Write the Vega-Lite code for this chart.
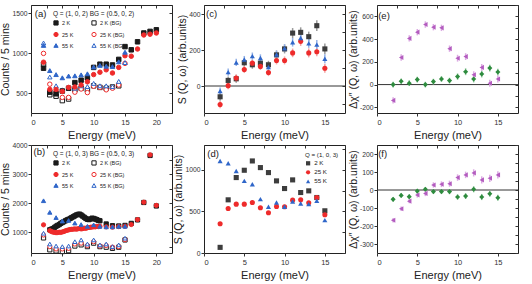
{
"$schema": "https://vega.github.io/schema/vega-lite/v6.json",
"padding": {"left": 0, "top": 4, "right": 0, "bottom": 0},
"columns": 3,
"spacing": 32,
"bounds": "flush",
"resolve": {"scale": {"color": "independent", "fill": "independent", "stroke": "independent", "shape": "independent"}, "legend": {"color": "independent", "fill": "independent", "stroke": "independent", "shape": "independent"}},
"config": {
  "font": "Liberation Sans",
  "locale": {"number": {"decimal": ".", "thousands": ",", "grouping": [3], "currency": ["$", ""], "minus": "-"}},
  "view": {"stroke": "#222", "strokeWidth": 1},
  "axis": {"grid": false, "domain": false, "minExtent": 0, "labelFontSize": 6.8, "titleFontSize": 10.5, "titleFontWeight": "normal", "labelColor": "#333", "titleColor": "#222", "tickColor": "#333", "tickSize": 3, "labelPadding": 1, "titlePadding": 1},
  "axisBottom": {"labelFontSize": 7.5, "titleFontSize": 11, "labelPadding": 2, "titlePadding": 4},
  "legend": {"titleFontSize": 6.5, "labelFontSize": 5.5, "titleFontWeight": "normal", "symbolSize": 18, "rowPadding": 2, "titlePadding": 2, "labelOffset": 3, "padding": 0, "symbolStrokeWidth": 1, "titleColor": "#222", "labelColor": "#222"}
},
"datasets": {
  "a": [
    {"E":2,"v":860,"s":"2 K (BG)"},{"E":3,"v":478,"s":"2 K (BG)"},{"E":4,"v":460,"s":"2 K (BG)"},{"E":5,"v":405,"s":"2 K (BG)"},{"E":6,"v":425,"s":"2 K (BG)"},{"E":7,"v":540,"s":"2 K (BG)"},{"E":8,"v":560,"s":"2 K (BG)"},{"E":9,"v":540,"s":"2 K (BG)"},{"E":10,"v":590,"s":"2 K (BG)"},{"E":11,"v":570,"s":"2 K (BG)"},{"E":12,"v":560,"s":"2 K (BG)"},{"E":13,"v":575,"s":"2 K (BG)"},{"E":14,"v":590,"s":"2 K (BG)"},
    {"E":2,"v":995,"s":"25 K (BG)"},{"E":3,"v":610,"s":"25 K (BG)"},{"E":4,"v":520,"s":"25 K (BG)"},{"E":5,"v":445,"s":"25 K (BG)"},{"E":6,"v":445,"s":"25 K (BG)"},{"E":7,"v":510,"s":"25 K (BG)"},{"E":8,"v":550,"s":"25 K (BG)"},{"E":9,"v":505,"s":"25 K (BG)"},{"E":10,"v":585,"s":"25 K (BG)"},{"E":11,"v":570,"s":"25 K (BG)"},{"E":12,"v":540,"s":"25 K (BG)"},{"E":13,"v":560,"s":"25 K (BG)"},{"E":14,"v":600,"s":"25 K (BG)"},{"E":15,"v":870,"s":"25 K (BG)"},
    {"E":2,"v":1125,"s":"55 K (BG)"},{"E":3,"v":700,"s":"55 K (BG)"},{"E":4,"v":590,"s":"55 K (BG)"},{"E":5,"v":540,"s":"55 K (BG)"},{"E":6,"v":555,"s":"55 K (BG)"},{"E":7,"v":560,"s":"55 K (BG)"},{"E":8,"v":590,"s":"55 K (BG)"},{"E":9,"v":580,"s":"55 K (BG)"},{"E":10,"v":620,"s":"55 K (BG)"},{"E":11,"v":590,"s":"55 K (BG)"},{"E":12,"v":590,"s":"55 K (BG)"},{"E":13,"v":580,"s":"55 K (BG)"},{"E":14,"v":645,"s":"55 K (BG)"},{"E":15,"v":880,"s":"55 K (BG)"},
    {"E":2,"v":810,"s":"2 K"},{"E":3,"v":510,"s":"2 K"},{"E":4,"v":490,"s":"2 K"},{"E":5,"v":525,"s":"2 K"},{"E":6,"v":560,"s":"2 K"},{"E":7,"v":630,"s":"2 K"},{"E":8,"v":660,"s":"2 K"},{"E":9,"v":690,"s":"2 K"},{"E":10,"v":820,"s":"2 K"},{"E":11,"v":860,"s":"2 K"},{"E":12,"v":860,"s":"2 K"},{"E":13,"v":850,"s":"2 K"},{"E":14,"v":920,"s":"2 K"},{"E":15,"v":1080,"s":"2 K"},{"E":16,"v":1040,"s":"2 K"},{"E":17,"v":1140,"s":"2 K"},{"E":18,"v":1250,"s":"2 K"},{"E":19,"v":1270,"s":"2 K"},{"E":20,"v":1290,"s":"2 K"},
    {"E":2,"v":885,"s":"25 K"},{"E":3,"v":545,"s":"25 K"},{"E":4,"v":545,"s":"25 K"},{"E":5,"v":520,"s":"25 K"},{"E":6,"v":570,"s":"25 K"},{"E":7,"v":575,"s":"25 K"},{"E":8,"v":600,"s":"25 K"},{"E":9,"v":640,"s":"25 K"},{"E":10,"v":730,"s":"25 K"},{"E":11,"v":760,"s":"25 K"},{"E":12,"v":790,"s":"25 K"},{"E":13,"v":750,"s":"25 K"},{"E":14,"v":820,"s":"25 K"},{"E":15,"v":966,"s":"25 K"},{"E":16,"v":960,"s":"25 K"},{"E":17,"v":1050,"s":"25 K"},{"E":18,"v":1225,"s":"25 K"},{"E":19,"v":1235,"s":"25 K"},{"E":20,"v":1250,"s":"25 K"},
    {"E":2,"v":1095,"s":"55 K"},{"E":3,"v":780,"s":"55 K"},{"E":4,"v":730,"s":"55 K"},{"E":5,"v":690,"s":"55 K"},{"E":6,"v":712,"s":"55 K"},{"E":7,"v":715,"s":"55 K"},{"E":8,"v":727,"s":"55 K"},{"E":9,"v":740,"s":"55 K"},{"E":10,"v":825,"s":"55 K"},{"E":11,"v":845,"s":"55 K"},{"E":12,"v":835,"s":"55 K"},{"E":13,"v":830,"s":"55 K"},{"E":14,"v":890,"s":"55 K"},{"E":15,"v":1010,"s":"55 K"}
  ],
  "b": [
    {"E":2,"v":800,"s":"2 K (BG)"},{"E":3,"v":390,"s":"2 K (BG)"},{"E":4,"v":350,"s":"2 K (BG)"},{"E":5,"v":330,"s":"2 K (BG)"},{"E":6,"v":360,"s":"2 K (BG)"},{"E":7,"v":520,"s":"2 K (BG)"},{"E":8,"v":560,"s":"2 K (BG)"},{"E":9,"v":500,"s":"2 K (BG)"},{"E":10,"v":620,"s":"2 K (BG)"},{"E":11,"v":500,"s":"2 K (BG)"},{"E":12,"v":480,"s":"2 K (BG)"},{"E":13,"v":440,"s":"2 K (BG)"},{"E":14,"v":480,"s":"2 K (BG)"},{"E":15,"v":730,"s":"2 K (BG)"},
    {"E":2,"v":900,"s":"25 K (BG)"},{"E":3,"v":500,"s":"25 K (BG)"},{"E":4,"v":420,"s":"25 K (BG)"},{"E":5,"v":420,"s":"25 K (BG)"},{"E":6,"v":440,"s":"25 K (BG)"},{"E":7,"v":590,"s":"25 K (BG)"},{"E":8,"v":620,"s":"25 K (BG)"},{"E":9,"v":540,"s":"25 K (BG)"},{"E":10,"v":670,"s":"25 K (BG)"},{"E":11,"v":520,"s":"25 K (BG)"},{"E":12,"v":540,"s":"25 K (BG)"},{"E":13,"v":480,"s":"25 K (BG)"},{"E":14,"v":500,"s":"25 K (BG)"},{"E":15,"v":740,"s":"25 K (BG)"},
    {"E":2,"v":960,"s":"55 K (BG)"},{"E":3,"v":590,"s":"55 K (BG)"},{"E":4,"v":520,"s":"55 K (BG)"},{"E":5,"v":500,"s":"55 K (BG)"},{"E":6,"v":520,"s":"55 K (BG)"},{"E":7,"v":670,"s":"55 K (BG)"},{"E":8,"v":730,"s":"55 K (BG)"},{"E":9,"v":590,"s":"55 K (BG)"},{"E":10,"v":730,"s":"55 K (BG)"},{"E":11,"v":560,"s":"55 K (BG)"},{"E":12,"v":590,"s":"55 K (BG)"},{"E":13,"v":500,"s":"55 K (BG)"},{"E":14,"v":560,"s":"55 K (BG)"},{"E":15,"v":790,"s":"55 K (BG)"},
    {"E":3,"v":1080,"s":"2 K"},{"E":3.25,"v":1100,"s":"2 K"},{"E":3.5,"v":1120,"s":"2 K"},{"E":3.75,"v":1160,"s":"2 K"},{"E":4,"v":1200,"s":"2 K"},{"E":4.25,"v":1230,"s":"2 K"},{"E":4.5,"v":1260,"s":"2 K"},{"E":4.75,"v":1300,"s":"2 K"},{"E":5,"v":1330,"s":"2 K"},{"E":5.25,"v":1360,"s":"2 K"},{"E":5.5,"v":1390,"s":"2 K"},{"E":5.75,"v":1420,"s":"2 K"},{"E":6,"v":1440,"s":"2 K"},{"E":6.25,"v":1470,"s":"2 K"},{"E":6.5,"v":1500,"s":"2 K"},{"E":6.75,"v":1530,"s":"2 K"},{"E":7,"v":1560,"s":"2 K"},{"E":7.25,"v":1590,"s":"2 K"},{"E":7.5,"v":1610,"s":"2 K"},{"E":7.75,"v":1620,"s":"2 K"},{"E":8,"v":1590,"s":"2 K"},{"E":8.25,"v":1550,"s":"2 K"},{"E":8.5,"v":1510,"s":"2 K"},{"E":8.75,"v":1470,"s":"2 K"},{"E":9,"v":1440,"s":"2 K"},{"E":9.25,"v":1430,"s":"2 K"},{"E":9.5,"v":1450,"s":"2 K"},{"E":9.75,"v":1480,"s":"2 K"},{"E":10,"v":1470,"s":"2 K"},{"E":10.25,"v":1450,"s":"2 K"},{"E":10.5,"v":1430,"s":"2 K"},{"E":10.75,"v":1400,"s":"2 K"},{"E":11,"v":1390,"s":"2 K"},{"E":12,"v":1280,"s":"2 K"},{"E":13,"v":1220,"s":"2 K"},{"E":14,"v":1210,"s":"2 K"},{"E":15,"v":1230,"s":"2 K"},{"E":16,"v":1300,"s":"2 K"},{"E":17,"v":1420,"s":"2 K"},{"E":18,"v":2020,"s":"2 K"},{"E":19,"v":3640,"s":"2 K"},{"E":20,"v":1900,"s":"2 K"},
    {"E":2,"v":1250,"s":"25 K"},{"E":3,"v":1050,"s":"25 K"},{"E":3.25,"v":1020,"s":"25 K"},{"E":3.5,"v":1000,"s":"25 K"},{"E":3.75,"v":990,"s":"25 K"},{"E":4,"v":980,"s":"25 K"},{"E":4.25,"v":985,"s":"25 K"},{"E":4.5,"v":995,"s":"25 K"},{"E":4.75,"v":990,"s":"25 K"},{"E":5,"v":1005,"s":"25 K"},{"E":5.25,"v":1020,"s":"25 K"},{"E":5.5,"v":1045,"s":"25 K"},{"E":5.75,"v":1060,"s":"25 K"},{"E":6,"v":1075,"s":"25 K"},{"E":6.25,"v":1090,"s":"25 K"},{"E":6.5,"v":1095,"s":"25 K"},{"E":6.75,"v":1100,"s":"25 K"},{"E":7,"v":1110,"s":"25 K"},{"E":7.25,"v":1100,"s":"25 K"},{"E":7.5,"v":1115,"s":"25 K"},{"E":7.75,"v":1125,"s":"25 K"},{"E":8,"v":1110,"s":"25 K"},{"E":8.25,"v":1120,"s":"25 K"},{"E":8.5,"v":1135,"s":"25 K"},{"E":8.75,"v":1130,"s":"25 K"},{"E":9,"v":1150,"s":"25 K"},{"E":9.25,"v":1160,"s":"25 K"},{"E":9.5,"v":1165,"s":"25 K"},{"E":9.75,"v":1175,"s":"25 K"},{"E":10,"v":1185,"s":"25 K"},{"E":10.25,"v":1180,"s":"25 K"},{"E":10.5,"v":1195,"s":"25 K"},{"E":10.75,"v":1190,"s":"25 K"},{"E":11,"v":1200,"s":"25 K"},{"E":12,"v":1180,"s":"25 K"},{"E":13,"v":1170,"s":"25 K"},{"E":14,"v":1190,"s":"25 K"},{"E":15,"v":1200,"s":"25 K"},{"E":16,"v":1260,"s":"25 K"},{"E":17,"v":1430,"s":"25 K"},{"E":18,"v":2030,"s":"25 K"},{"E":19,"v":3660,"s":"25 K"},{"E":20,"v":1920,"s":"25 K"},
    {"E":2,"v":2080,"s":"55 K"},{"E":3,"v":1680,"s":"55 K"},{"E":4,"v":1500,"s":"55 K"},{"E":5,"v":1380,"s":"55 K"},{"E":6,"v":1400,"s":"55 K"},{"E":7,"v":1310,"s":"55 K"},{"E":8,"v":1260,"s":"55 K"},{"E":9,"v":1200,"s":"55 K"},{"E":10,"v":1250,"s":"55 K"},{"E":11,"v":1200,"s":"55 K"},{"E":12,"v":1180,"s":"55 K"},{"E":13,"v":1180,"s":"55 K"},{"E":14,"v":1200,"s":"55 K"},{"E":15,"v":1200,"s":"55 K"}
  ],
  "c": [
    {"E":2,"v":-60,"err":22,"s":"2 K"},{"E":3,"v":31,"err":22,"s":"2 K"},{"E":4,"v":40,"err":22,"s":"2 K"},{"E":5,"v":129,"err":22,"s":"2 K"},{"E":6,"v":118,"err":22,"s":"2 K"},{"E":7,"v":127,"err":22,"s":"2 K"},{"E":8,"v":118,"err":22,"s":"2 K"},{"E":9,"v":173,"err":24,"s":"2 K"},{"E":10,"v":206,"err":25,"s":"2 K"},{"E":11,"v":294,"err":28,"s":"2 K"},{"E":12,"v":298,"err":28,"s":"2 K"},{"E":13,"v":274,"err":28,"s":"2 K"},{"E":14,"v":335,"err":30,"s":"2 K"},{"E":15,"v":206,"err":30,"s":"2 K"},
    {"E":2,"v":-103,"err":20,"s":"25 K"},{"E":3,"v":2,"err":20,"s":"25 K"},{"E":4,"v":44,"err":20,"s":"25 K"},{"E":5,"v":92,"err":20,"s":"25 K"},{"E":6,"v":127,"err":20,"s":"25 K"},{"E":7,"v":109,"err":20,"s":"25 K"},{"E":8,"v":75,"err":20,"s":"25 K"},{"E":9,"v":142,"err":22,"s":"25 K"},{"E":10,"v":142,"err":22,"s":"25 K"},{"E":11,"v":184,"err":24,"s":"25 K"},{"E":12,"v":248,"err":25,"s":"25 K"},{"E":13,"v":184,"err":25,"s":"25 K"},{"E":14,"v":190,"err":25,"s":"25 K"},{"E":15,"v":99,"err":25,"s":"25 K"},
    {"E":2,"v":-28,"err":20,"s":"55 K"},{"E":3,"v":77,"err":20,"s":"55 K"},{"E":4,"v":131,"err":20,"s":"55 K"},{"E":5,"v":147,"err":20,"s":"55 K"},{"E":6,"v":166,"err":20,"s":"55 K"},{"E":7,"v":156,"err":20,"s":"55 K"},{"E":8,"v":105,"err":20,"s":"55 K"},{"E":9,"v":175,"err":22,"s":"55 K"},{"E":10,"v":210,"err":22,"s":"55 K"},{"E":11,"v":243,"err":24,"s":"55 K"},{"E":12,"v":267,"err":25,"s":"55 K"},{"E":13,"v":237,"err":25,"s":"55 K"},{"E":14,"v":230,"err":25,"s":"55 K"},{"E":15,"v":151,"err":25,"s":"55 K"}
  ],
  "d": [
    {"E":2,"v":68,"s":"2 K"},{"E":3,"v":640,"s":"2 K"},{"E":4,"v":908,"s":"2 K"},{"E":5,"v":996,"s":"2 K"},{"E":6,"v":1108,"s":"2 K"},{"E":7,"v":1028,"s":"2 K"},{"E":8,"v":968,"s":"2 K"},{"E":9,"v":868,"s":"2 K"},{"E":10,"v":776,"s":"2 K"},{"E":11,"v":880,"s":"2 K"},{"E":12,"v":728,"s":"2 K"},{"E":13,"v":748,"s":"2 K"},{"E":14,"v":668,"s":"2 K"},{"E":15,"v":508,"s":"2 K"},
    {"E":2,"v":352,"s":"25 K"},{"E":3,"v":536,"s":"25 K"},{"E":4,"v":588,"s":"25 K"},{"E":5,"v":588,"s":"25 K"},{"E":6,"v":608,"s":"25 K"},{"E":7,"v":544,"s":"25 K"},{"E":8,"v":484,"s":"25 K"},{"E":9,"v":560,"s":"25 K"},{"E":10,"v":556,"s":"25 K"},{"E":11,"v":636,"s":"25 K"},{"E":12,"v":640,"s":"25 K"},{"E":13,"v":604,"s":"25 K"},{"E":14,"v":668,"s":"25 K"},{"E":15,"v":460,"s":"25 K"},
    {"E":2,"v":1108,"s":"55 K"},{"E":3,"v":1080,"s":"55 K"},{"E":4,"v":988,"s":"55 K"},{"E":5,"v":868,"s":"55 K"},{"E":6,"v":828,"s":"55 K"},{"E":7,"v":648,"s":"55 K"},{"E":8,"v":556,"s":"55 K"},{"E":9,"v":608,"s":"55 K"},{"E":10,"v":556,"s":"55 K"},{"E":11,"v":620,"s":"55 K"},{"E":12,"v":596,"s":"55 K"},{"E":13,"v":588,"s":"55 K"},{"E":14,"v":628,"s":"55 K"},{"E":15,"v":396,"s":"55 K"}
  ],
  "e": [
    {"E":2,"v":0,"err":25,"s":"Q = (1, 0, 2)"},{"E":3,"v":29,"err":25,"s":"Q = (1, 0, 2)"},{"E":4,"v":12,"err":25,"s":"Q = (1, 0, 2)"},{"E":5,"v":44,"err":25,"s":"Q = (1, 0, 2)"},{"E":6,"v":0,"err":25,"s":"Q = (1, 0, 2)"},{"E":7,"v":26,"err":25,"s":"Q = (1, 0, 2)"},{"E":8,"v":49,"err":25,"s":"Q = (1, 0, 2)"},{"E":9,"v":35,"err":25,"s":"Q = (1, 0, 2)"},{"E":10,"v":70,"err":28,"s":"Q = (1, 0, 2)"},{"E":11,"v":113,"err":30,"s":"Q = (1, 0, 2)"},{"E":12,"v":49,"err":30,"s":"Q = (1, 0, 2)"},{"E":13,"v":93,"err":30,"s":"Q = (1, 0, 2)"},{"E":14,"v":145,"err":30,"s":"Q = (1, 0, 2)"},{"E":15,"v":110,"err":30,"s":"Q = (1, 0, 2)"},
    {"E":2,"v":-139,"err":28,"s":"Q = (1, 0, 3)"},{"E":3,"v":238,"err":28,"s":"Q = (1, 0, 3)"},{"E":4,"v":406,"err":28,"s":"Q = (1, 0, 3)"},{"E":5,"v":461,"err":28,"s":"Q = (1, 0, 3)"},{"E":6,"v":528,"err":28,"s":"Q = (1, 0, 3)"},{"E":7,"v":505,"err":28,"s":"Q = (1, 0, 3)"},{"E":8,"v":499,"err":28,"s":"Q = (1, 0, 3)"},{"E":9,"v":316,"err":28,"s":"Q = (1, 0, 3)"},{"E":10,"v":232,"err":30,"s":"Q = (1, 0, 3)"},{"E":11,"v":246,"err":30,"s":"Q = (1, 0, 3)"},{"E":12,"v":87,"err":30,"s":"Q = (1, 0, 3)"},{"E":13,"v":151,"err":30,"s":"Q = (1, 0, 3)"},{"E":14,"v":12,"err":30,"s":"Q = (1, 0, 3)"},{"E":15,"v":49,"err":30,"s":"Q = (1, 0, 3)"}
  ],
  "f": [
    {"E":2,"v":-52,"err":12,"s":"Q = (1, 0, 2)"},{"E":3,"v":-30,"err":12,"s":"Q = (1, 0, 2)"},{"E":4,"v":-37,"err":12,"s":"Q = (1, 0, 2)"},{"E":5,"v":-6,"err":12,"s":"Q = (1, 0, 2)"},{"E":6,"v":4,"err":12,"s":"Q = (1, 0, 2)"},{"E":7,"v":-9,"err":12,"s":"Q = (1, 0, 2)"},{"E":8,"v":-9,"err":12,"s":"Q = (1, 0, 2)"},{"E":9,"v":-9,"err":14,"s":"Q = (1, 0, 2)"},{"E":10,"v":-39,"err":15,"s":"Q = (1, 0, 2)"},{"E":11,"v":-34,"err":16,"s":"Q = (1, 0, 2)"},{"E":12,"v":4,"err":17,"s":"Q = (1, 0, 2)"},{"E":13,"v":-39,"err":17,"s":"Q = (1, 0, 2)"},{"E":14,"v":-21,"err":17,"s":"Q = (1, 0, 2)"},{"E":15,"v":-43,"err":17,"s":"Q = (1, 0, 2)"},
    {"E":2,"v":-168,"err":12,"s":"Q = (1, 0, 3)"},{"E":3,"v":-104,"err":12,"s":"Q = (1, 0, 3)"},{"E":4,"v":-62,"err":12,"s":"Q = (1, 0, 3)"},{"E":5,"v":-28,"err":14,"s":"Q = (1, 0, 3)"},{"E":6,"v":-19,"err":15,"s":"Q = (1, 0, 3)"},{"E":7,"v":28,"err":15,"s":"Q = (1, 0, 3)"},{"E":8,"v":32,"err":16,"s":"Q = (1, 0, 3)"},{"E":9,"v":35,"err":17,"s":"Q = (1, 0, 3)"},{"E":10,"v":69,"err":18,"s":"Q = (1, 0, 3)"},{"E":11,"v":84,"err":18,"s":"Q = (1, 0, 3)"},{"E":12,"v":95,"err":20,"s":"Q = (1, 0, 3)"},{"E":13,"v":56,"err":20,"s":"Q = (1, 0, 3)"},{"E":14,"v":65,"err":20,"s":"Q = (1, 0, 3)"},{"E":15,"v":84,"err":20,"s":"Q = (1, 0, 3)"}
  ]
},
"concat": [
  {
    "width": 141, "height": 108,
    "layer": [
      {"data": {"name": "a"},
       "mark": {"type": "point", "size": 20, "strokeWidth": 1, "opacity": 1},
       "encoding": {
         "x": {"field": "E", "type": "quantitative", "scale": {"domain": [0, 22.5]}, "axis": {"values": [0,5,10,15,20], "title": "Energy (meV)"}},
         "y": {"field": "v", "type": "quantitative", "scale": {"domain": [250, 1600]}, "axis": {"values": [500,1000,1500], "format": "d", "title": "Counts / 5 mins"}},
         "fill": {"field": "s", "type": "nominal", "scale": {"domain": ["2 K","25 K","55 K","2 K (BG)","25 K (BG)","55 K (BG)"], "range": ["#1a1a1a","#ee2b2b","#2f66c9","white","white","white"]}, "legend": {"title": "Q = (1, 0, 2) BG = (0.5, 0, 2)", "orient": "none", "legendX": 22, "legendY": 6, "columns": 2, "columnPadding": 15}},
         "stroke": {"field": "s", "type": "nominal", "scale": {"domain": ["2 K","25 K","55 K","2 K (BG)","25 K (BG)","55 K (BG)"], "range": ["#1a1a1a","#ee2b2b","#2f66c9","#1a1a1a","#ee2b2b","#2f66c9"]}, "legend": {"title": "Q = (1, 0, 2) BG = (0.5, 0, 2)", "orient": "none", "legendX": 22, "legendY": 6, "columns": 2, "columnPadding": 15}},
         "shape": {"field": "s", "type": "nominal", "scale": {"domain": ["2 K","25 K","55 K","2 K (BG)","25 K (BG)","55 K (BG)"], "range": ["square","circle","triangle-up","square","circle","triangle-up"]}, "legend": {"title": "Q = (1, 0, 2) BG = (0.5, 0, 2)", "orient": "none", "legendX": 22, "legendY": 6, "columns": 2, "columnPadding": 15}}
       }},
      {"data": {"values": [{"label": "(a)"}]},
       "mark": {"type": "text", "align": "left", "baseline": "middle", "fontSize": 9.5, "color": "#222"},
       "encoding": {"x": {"datum": 0.6, "type": "quantitative", "scale": {"domain": [0, 22.5]}, "axis": null}, "y": {"datum": 1490, "type": "quantitative", "scale": {"domain": [250, 1600]}, "axis": null}, "text": {"field": "label"}}},
      {"data": {"values": [{}]},
       "mark": {"type": "point", "opacity": 0},
       "encoding": {"x": {"datum": 1, "type": "quantitative", "scale": {"domain": [0, 22.5]}, "axis": {"orient": "top", "labels": false, "title": null, "tickSize": -3, "values": [0,2.5,5,7.5,10,12.5,15,17.5,20,22.5]}}, "y": {"datum": 1000, "type": "quantitative", "scale": {"domain": [250, 1600]}, "axis": {"orient": "right", "labels": false, "title": null, "tickSize": -3, "values": [250,500,750,1000,1250,1500]}}}}
    ],
    "resolve": {"axis": {"x": "independent", "y": "independent"}}
  },
  {
    "width": 141, "height": 108,
    "layer": [
      {"data": {"values": [{}]}, "mark": {"type": "rule", "color": "#333", "strokeWidth": 1}, "encoding": {"y": {"datum": 0, "type": "quantitative", "scale": {"domain": [-150, 450]}, "axis": null}}},
      {"data": {"name": "c"},
       "mark": {"type": "errorbar", "thickness": 1.5},
       "encoding": {"x": {"field": "E", "type": "quantitative", "scale": {"domain": [0, 17.5]}, "axis": null}, "y": {"field": "v", "type": "quantitative", "scale": {"domain": [-150, 450]}, "axis": null}, "yError": {"field": "err"}, "stroke": {"field": "s", "type": "nominal", "scale": {"domain": ["2 K","25 K","55 K"], "range": ["#9a9a9a","#f3a0a0","#93b1e6"]}, "legend": null}}},
      {"data": {"name": "c"},
       "mark": {"type": "point", "filled": true, "size": 26, "opacity": 1},
       "encoding": {
         "x": {"field": "E", "type": "quantitative", "scale": {"domain": [0, 17.5]}, "axis": {"values": [0,5,10,15], "title": "Energy (meV)"}},
         "y": {"field": "v", "type": "quantitative", "scale": {"domain": [-150, 450]}, "axis": {"values": [0,200,400], "format": "d", "title": "S (Q, ω) (arb.units)"}},
         "color": {"field": "s", "type": "nominal", "scale": {"domain": ["2 K","25 K","55 K"], "range": ["#3d3d3d","#ee2b2b","#2f66c9"]}, "legend": {"title": "Q = (1, 0, 2)", "orient": "none", "legendX": 39, "legendY": 7, "titleFontSize": 5.2, "labelFontSize": 5.2}},
         "shape": {"field": "s", "type": "nominal", "scale": {"domain": ["2 K","25 K","55 K"], "range": ["square","circle","triangle-up"]}, "legend": {"title": "Q = (1, 0, 2)", "orient": "none", "legendX": 39, "legendY": 7, "titleFontSize": 5.2, "labelFontSize": 5.2}}
       }},
      {"data": {"values": [{"label": "(c)"}]},
       "mark": {"type": "text", "align": "left", "baseline": "middle", "fontSize": 9.5, "color": "#222"},
       "encoding": {"x": {"datum": 0.25, "type": "quantitative", "scale": {"domain": [0, 17.5]}, "axis": null}, "y": {"datum": 402, "type": "quantitative", "scale": {"domain": [-150, 450]}, "axis": null}, "text": {"field": "label"}}},
      {"data": {"values": [{}]},
       "mark": {"type": "point", "opacity": 0},
       "encoding": {"x": {"datum": 1, "type": "quantitative", "scale": {"domain": [0, 17.5]}, "axis": {"orient": "top", "labels": false, "title": null, "tickSize": -3, "values": [0,2.5,5,7.5,10,12.5,15,17.5]}}, "y": {"datum": 0, "type": "quantitative", "scale": {"domain": [-150, 450]}, "axis": {"orient": "right", "labels": false, "title": null, "tickSize": -3, "values": [-100,0,100,200,300,400]}}}}
    ],
    "resolve": {"axis": {"x": "independent", "y": "independent"}}
  },
  {
    "width": 141, "height": 108,
    "layer": [
      {"data": {"values": [{}]}, "mark": {"type": "rule", "color": "#333", "strokeWidth": 1}, "encoding": {"y": {"datum": 0, "type": "quantitative", "scale": {"domain": [-250, 700]}, "axis": null}}},
      {"data": {"name": "e"},
       "mark": {"type": "errorbar", "thickness": 1.5},
       "encoding": {"x": {"field": "E", "type": "quantitative", "scale": {"domain": [0, 17.5]}, "axis": null}, "y": {"field": "v", "type": "quantitative", "scale": {"domain": [-250, 700]}, "axis": null}, "yError": {"field": "err"}, "stroke": {"field": "s", "type": "nominal", "scale": {"domain": ["Q = (1, 0, 2)","Q = (1, 0, 3)"], "range": ["#8cc79a","#dcaae3"]}, "legend": null}}},
      {"data": {"name": "e"},
       "mark": {"type": "point", "filled": true, "size": 26, "opacity": 1},
       "encoding": {
         "x": {"field": "E", "type": "quantitative", "scale": {"domain": [0, 17.5]}, "axis": {"values": [0,5,10,15], "title": "Energy (meV)"}},
         "y": {"field": "v", "type": "quantitative", "scale": {"domain": [-250, 700]}, "axis": {"values": [-200,0,200,400,600], "format": "d", "title": "Δχ″ (Q, ω) (arb.units)"}},
         "color": {"field": "s", "type": "nominal", "scale": {"domain": ["Q = (1, 0, 2)","Q = (1, 0, 3)"], "range": ["#2e8b3e","#b35cbf"]}, "legend": {"title": "2 K - 25 K", "orient": "none", "legendX": 92, "legendY": 6, "titleFontSize": 6.3, "labelFontSize": 6, "rowPadding": 3}},
         "shape": {"field": "s", "type": "nominal", "scale": {"domain": ["Q = (1, 0, 2)","Q = (1, 0, 3)"], "range": ["diamond","triangle-left"]}, "legend": {"title": "2 K - 25 K", "orient": "none", "legendX": 92, "legendY": 6, "titleFontSize": 6.3, "labelFontSize": 6, "rowPadding": 3}}
       }},
      {"data": {"values": [{"label": "(e)"}]},
       "mark": {"type": "text", "align": "left", "baseline": "middle", "fontSize": 9.5, "color": "#222"},
       "encoding": {"x": {"datum": 0.15, "type": "quantitative", "scale": {"domain": [0, 17.5]}, "axis": null}, "y": {"datum": 603, "type": "quantitative", "scale": {"domain": [-250, 700]}, "axis": null}, "text": {"field": "label"}}},
      {"data": {"values": [{}]},
       "mark": {"type": "point", "opacity": 0},
       "encoding": {"x": {"datum": 1, "type": "quantitative", "scale": {"domain": [0, 17.5]}, "axis": {"orient": "top", "labels": false, "title": null, "tickSize": -3, "values": [0,2.5,5,7.5,10,12.5,15,17.5]}}, "y": {"datum": 0, "type": "quantitative", "scale": {"domain": [-250, 700]}, "axis": {"orient": "right", "labels": false, "title": null, "tickSize": -3, "values": [-200,-100,0,100,200,300,400,500,600,700]}}}}
    ],
    "resolve": {"axis": {"x": "independent", "y": "independent"}}
  },
  {
    "width": 141, "height": 108,
    "layer": [
      {"data": {"name": "b"},
       "mark": {"type": "point", "size": 18, "strokeWidth": 1, "opacity": 1},
       "encoding": {
         "x": {"field": "E", "type": "quantitative", "scale": {"domain": [0, 22.5]}, "axis": {"values": [0,5,10,15,20], "title": "Energy (meV)"}},
         "y": {"field": "v", "type": "quantitative", "scale": {"domain": [280, 4000]}, "axis": {"values": [1000,2000,3000,4000], "format": "d", "title": "Counts / 5 mins"}},
         "fill": {"field": "s", "type": "nominal", "scale": {"domain": ["2 K","25 K","55 K","2 K (BG)","25 K (BG)","55 K (BG)"], "range": ["#1a1a1a","#ee2b2b","#2f66c9","white","white","white"]}, "legend": {"title": "Q = (1, 0, 3) BG = (0.5, 0, 3)", "orient": "none", "legendX": 22, "legendY": 6, "columns": 2, "columnPadding": 15}},
         "stroke": {"field": "s", "type": "nominal", "scale": {"domain": ["2 K","25 K","55 K","2 K (BG)","25 K (BG)","55 K (BG)"], "range": ["#1a1a1a","#ee2b2b","#2f66c9","#1a1a1a","#ee2b2b","#2f66c9"]}, "legend": {"title": "Q = (1, 0, 3) BG = (0.5, 0, 3)", "orient": "none", "legendX": 22, "legendY": 6, "columns": 2, "columnPadding": 15}},
         "shape": {"field": "s", "type": "nominal", "scale": {"domain": ["2 K","25 K","55 K","2 K (BG)","25 K (BG)","55 K (BG)"], "range": ["square","circle","triangle-up","square","circle","triangle-up"]}, "legend": {"title": "Q = (1, 0, 3) BG = (0.5, 0, 3)", "orient": "none", "legendX": 22, "legendY": 6, "columns": 2, "columnPadding": 15}}
       }},
      {"data": {"values": [{"label": "(b)"}]},
       "mark": {"type": "text", "align": "left", "baseline": "middle", "fontSize": 9.5, "color": "#222"},
       "encoding": {"x": {"datum": 0.4, "type": "quantitative", "scale": {"domain": [0, 22.5]}, "axis": null}, "y": {"datum": 3770, "type": "quantitative", "scale": {"domain": [280, 4000]}, "axis": null}, "text": {"field": "label"}}},
      {"data": {"values": [{}]},
       "mark": {"type": "point", "opacity": 0},
       "encoding": {"x": {"datum": 1, "type": "quantitative", "scale": {"domain": [0, 22.5]}, "axis": {"orient": "top", "labels": false, "title": null, "tickSize": -3, "values": [0,2.5,5,7.5,10,12.5,15,17.5,20,22.5]}}, "y": {"datum": 1000, "type": "quantitative", "scale": {"domain": [280, 4000]}, "axis": {"orient": "right", "labels": false, "title": null, "tickSize": -3, "values": [500,1000,1500,2000,2500,3000,3500,4000]}}}}
    ],
    "resolve": {"axis": {"x": "independent", "y": "independent"}}
  },
  {
    "width": 141, "height": 108,
    "layer": [
      {"data": {"name": "d"},
       "mark": {"type": "point", "filled": true, "size": 26, "opacity": 1},
       "encoding": {
         "x": {"field": "E", "type": "quantitative", "scale": {"domain": [0, 17.5]}, "axis": {"values": [0,5,10,15], "title": "Energy (meV)"}},
         "y": {"field": "v", "type": "quantitative", "scale": {"domain": [0, 1300]}, "axis": {"values": [0,500,1000], "format": "d", "title": "S (Q, ω) (arb.units)"}},
         "color": {"field": "s", "type": "nominal", "scale": {"domain": ["2 K","25 K","55 K"], "range": ["#3d3d3d","#ee2b2b","#2f66c9"]}, "legend": {"title": "Q = (1, 0, 3)", "orient": "none", "legendX": 101, "legendY": 7, "titleFontSize": 6.2, "labelFontSize": 6.2}},
         "shape": {"field": "s", "type": "nominal", "scale": {"domain": ["2 K","25 K","55 K"], "range": ["square","circle","triangle-up"]}, "legend": {"title": "Q = (1, 0, 3)", "orient": "none", "legendX": 101, "legendY": 7, "titleFontSize": 6.2, "labelFontSize": 6.2}}
       }},
      {"data": {"values": [{"label": "(d)"}]},
       "mark": {"type": "text", "align": "left", "baseline": "middle", "fontSize": 9.5, "color": "#222"},
       "encoding": {"x": {"datum": 0.4, "type": "quantitative", "scale": {"domain": [0, 17.5]}, "axis": null}, "y": {"datum": 1187, "type": "quantitative", "scale": {"domain": [0, 1300]}, "axis": null}, "text": {"field": "label"}}},
      {"data": {"values": [{}]},
       "mark": {"type": "point", "opacity": 0},
       "encoding": {"x": {"datum": 1, "type": "quantitative", "scale": {"domain": [0, 17.5]}, "axis": {"orient": "top", "labels": false, "title": null, "tickSize": -3, "values": [0,2.5,5,7.5,10,12.5,15,17.5]}}, "y": {"datum": 500, "type": "quantitative", "scale": {"domain": [0, 1300]}, "axis": {"orient": "right", "labels": false, "title": null, "tickSize": -3, "values": [0,250,500,750,1000,1250]}}}}
    ],
    "resolve": {"axis": {"x": "independent", "y": "independent"}}
  },
  {
    "width": 141, "height": 108,
    "layer": [
      {"data": {"values": [{}]}, "mark": {"type": "rule", "color": "#333", "strokeWidth": 1}, "encoding": {"y": {"datum": 0, "type": "quantitative", "scale": {"domain": [-350, 250]}, "axis": null}}},
      {"data": {"name": "f"},
       "mark": {"type": "errorbar", "thickness": 1.5},
       "encoding": {"x": {"field": "E", "type": "quantitative", "scale": {"domain": [0, 17.5]}, "axis": null}, "y": {"field": "v", "type": "quantitative", "scale": {"domain": [-350, 250]}, "axis": null}, "yError": {"field": "err"}, "stroke": {"field": "s", "type": "nominal", "scale": {"domain": ["Q = (1, 0, 2)","Q = (1, 0, 3)"], "range": ["#8cc79a","#dcaae3"]}, "legend": null}}},
      {"data": {"name": "f"},
       "mark": {"type": "point", "filled": true, "size": 26, "opacity": 1},
       "encoding": {
         "x": {"field": "E", "type": "quantitative", "scale": {"domain": [0, 17.5]}, "axis": {"values": [0,5,10,15], "title": "Energy (meV)"}},
         "y": {"field": "v", "type": "quantitative", "scale": {"domain": [-350, 250]}, "axis": {"values": [-300,-200,-100,0,100,200], "format": "d", "title": "Δχ″ (Q, ω) (arb.units)"}},
         "color": {"field": "s", "type": "nominal", "scale": {"domain": ["Q = (1, 0, 2)","Q = (1, 0, 3)"], "range": ["#2e8b3e","#b35cbf"]}, "legend": {"title": "25 K - 55 K", "titleAnchor": "end", "orient": "none", "legendX": 94, "legendY": 72, "titleFontSize": 6.2, "labelFontSize": 6.5, "rowPadding": 3}},
         "shape": {"field": "s", "type": "nominal", "scale": {"domain": ["Q = (1, 0, 2)","Q = (1, 0, 3)"], "range": ["diamond","triangle-left"]}, "legend": {"title": "25 K - 55 K", "titleAnchor": "end", "orient": "none", "legendX": 94, "legendY": 72, "titleFontSize": 6.2, "labelFontSize": 6.5, "rowPadding": 3}}
       }},
      {"data": {"values": [{"label": "(f)"}]},
       "mark": {"type": "text", "align": "left", "baseline": "middle", "fontSize": 9.5, "color": "#222"},
       "encoding": {"x": {"datum": 0.15, "type": "quantitative", "scale": {"domain": [0, 17.5]}, "axis": null}, "y": {"datum": 199, "type": "quantitative", "scale": {"domain": [-350, 250]}, "axis": null}, "text": {"field": "label"}}},
      {"data": {"values": [{}]},
       "mark": {"type": "point", "opacity": 0},
       "encoding": {"x": {"datum": 1, "type": "quantitative", "scale": {"domain": [0, 17.5]}, "axis": {"orient": "top", "labels": false, "title": null, "tickSize": -3, "values": [0,2.5,5,7.5,10,12.5,15,17.5]}}, "y": {"datum": 0, "type": "quantitative", "scale": {"domain": [-350, 250]}, "axis": {"orient": "right", "labels": false, "title": null, "tickSize": -3, "values": [-350,-300,-250,-200,-150,-100,-50,0,50,100,150,200,250]}}}}
    ],
    "resolve": {"axis": {"x": "independent", "y": "independent"}}
  }
]
}
